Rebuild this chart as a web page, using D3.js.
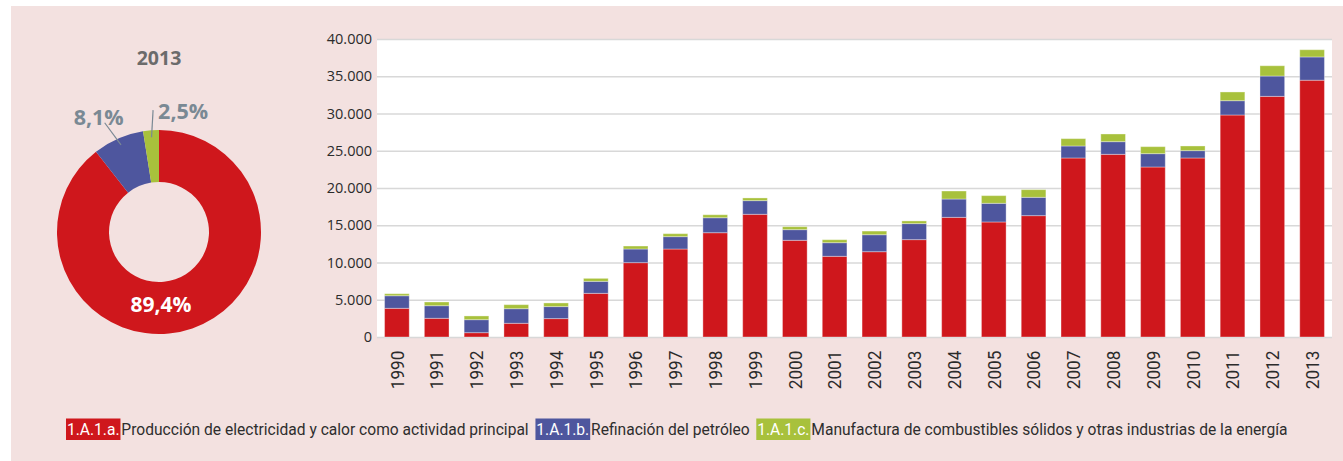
<!DOCTYPE html>
<html>
<head>
<meta charset="utf-8">
<script src="https://cdn.jsdelivr.net/npm/d3@7"></script>
<style>
  html, body { margin: 0; padding: 0; background: #ffffff; }
  svg { display: block; }
</style>
</head>
<body>
<svg id="chart" width="1343" height="461"></svg>
<script>
// ---------- DATA ----------
const years = ["1990","1991","1992","1993","1994","1995","1996","1997","1998","1999","2000","2001","2002","2003","2004","2005","2006","2007","2008","2009","2010","2011","2012","2013"];
const electricity = [3850, 2510, 580, 1840, 2470, 5860, 9980, 11810, 14000, 16470, 12980, 10830, 11450, 13070, 16060, 15440, 16290, 24030, 24520, 22820, 24030, 29800, 32300, 34470];
const refining    = [1690, 1690, 1745, 1960, 1610, 1610, 1830, 1660, 2010, 1835, 1430, 1830, 2280, 2150, 2460, 2505, 2460, 1610, 1700, 1790, 985, 1920, 2730, 3120];
const solidFuels  = [270, 500, 500, 540, 490, 400, 400, 400, 400, 360, 400, 400, 490, 360, 1075, 1030, 1030, 985, 1030, 940, 625, 1170, 1380, 970];
const yTicks = [0, 5000, 10000, 15000, 20000, 25000, 30000, 35000, 40000];
const pieYear = "2013";
const pieShares = [89.4, 8.1, 2.5];
const pieLabels = ["89,4%", "8,1%", "2,5%"];
const seriesCodes = ["1.A.1.a.", "1.A.1.b.", "1.A.1.c."];
const seriesNames = ["Producción de electricidad y calor como actividad principal", "Refinación del petróleo", "Manufactura de combustibles sólidos y otras industrias de la energía"];

// ---------- STYLE ----------
const colors = ["#cf171c", "#4e569e", "#a8c13c"];
const bg = "#f3e1e0";
const svg = d3.select("#chart");

svg.append("rect").attr("x", 11).attr("y", 6).attr("width", 1343 - 11).attr("height", 461 - 6).attr("fill", bg);

// ---------- BAR CHART ----------
const plot = { left: 377, right: 1332, top: 39, bottom: 337 };
const x = d3.scaleBand().domain(years).range([plot.left, plot.right]).paddingInner(0.38).paddingOuter(0.19);
const y = d3.scaleLinear().domain([0, 40000]).range([plot.bottom, plot.top]);

svg.append("rect").attr("x", plot.left).attr("y", plot.top)
  .attr("width", plot.right - plot.left).attr("height", plot.bottom - plot.top).attr("fill", "#ffffff");

const locale = d3.formatLocale({ decimal: ",", thousands: ".", grouping: [3], currency: ["", ""] });
const fmt = locale.format(",d");

// gridlines
const yAxis = d3.axisLeft(y).tickValues(yTicks).tickFormat(fmt).tickSize(-(plot.right - plot.left)).tickPadding(5);
const gy = svg.append("g").attr("transform", `translate(${plot.left},0)`).call(yAxis);
gy.select(".domain").remove();
gy.selectAll(".tick line").attr("stroke", "#d8d8d8").attr("stroke-width", 1.6);
gy.selectAll(".tick text").attr("fill", "#2b2b2b").attr("font-family", "Open Sans").attr("font-size", 14.5);

// stacked bars
const table = years.map((yr, i) => ({ year: yr, a: electricity[i], b: refining[i], c: solidFuels[i] }));
const stack = d3.stack().keys(["a", "b", "c"]);
const layers = stack(table);
svg.append("g").selectAll("g").data(layers).join("g")
  .attr("fill", (d, i) => colors[i])
  .selectAll("rect").data(d => d).join("rect")
  .attr("x", d => x(d.data.year))
  .attr("width", x.bandwidth())
  .attr("y", d => y(d[1]))
  .attr("height", d => y(d[0]) - y(d[1]))
  .attr("stroke", "rgba(255,255,255,0.35)")
  .attr("stroke-width", 1);

// x axis labels
const xAxis = d3.axisBottom(x).tickSize(0).tickPadding(0);
const gx = svg.append("g").attr("transform", `translate(0,${plot.bottom})`).call(xAxis);
gx.select(".domain").remove();
gx.selectAll(".tick text")
  .attr("fill", "#2b2b2b").attr("font-family", "Roboto").attr("font-size", 17.5)
  .attr("text-anchor", "end")
  .attr("transform", "rotate(-90) scale(0.98,1.08)")
  .attr("x", -14).attr("y", 0).attr("dy", "0.36em");

// ---------- DONUT ----------
const cx = 159, cy = 232, rOuter = 102, rInner = 50;
const pie = d3.pie().sort(null).value(d => d);
const arcs = pie(pieShares);
const arc = d3.arc().innerRadius(rInner).outerRadius(rOuter);
const gp = svg.append("g").attr("transform", `translate(${cx},${cy})`);
gp.selectAll("path").data(arcs).join("path").attr("d", arc).attr("fill", (d, i) => colors[i]);

svg.append("text").attr("x", cx).attr("y", 65).attr("text-anchor", "middle")
  .attr("font-family", "Open Sans").attr("font-weight", "bold").attr("font-size", 19.5)
  .attr("fill", "#6b6b6b").text(pieYear);

// inside label for big slice
gp.append("text").attr("x", 2).attr("y", 80).attr("text-anchor", "middle")
  .attr("font-family", "Open Sans").attr("font-weight", "bold").attr("font-size", 21)
  .attr("fill", "#ffffff").text(pieLabels[0]);

// outside labels with leader lines
const labelColor = "#7a8994";
const offsets = [null, { dx: -6, dy: 2, anchor: "middle" }, { dx: 5, dy: 9, anchor: "start" }];
[1, 2].forEach(i => {
  const a = (arcs[i].startAngle + arcs[i].endAngle) / 2;
  const p0 = [95 * Math.sin(a), -95 * Math.cos(a)];
  const p1 = [122 * Math.sin(a + (i === 1 ? -0.05 : 0.03)), -122 * Math.cos(a + (i === 1 ? -0.05 : 0.03))];
  gp.append("line").attr("x1", p0[0]).attr("y1", p0[1]).attr("x2", p1[0]).attr("y2", p1[1])
    .attr("stroke", labelColor).attr("stroke-width", 1.2);
  gp.append("text").attr("x", p1[0] + offsets[i].dx).attr("y", p1[1] + offsets[i].dy)
    .attr("text-anchor", offsets[i].anchor)
    .attr("font-family", "Open Sans").attr("font-weight", "bold").attr("font-size", 21.5)
    .attr("fill", labelColor).text(pieLabels[i]);
});

// ---------- LEGEND ----------
const legendLeft = 66, legendRight = 1288;
const lgOuter = svg.append("g");
const lg = lgOuter.append("g");
let lx = 0;
const ly = 435;
seriesCodes.forEach((code, i) => {
  const rect = lg.append("rect").attr("y", 418.5).attr("height", 21.5).attr("fill", colors[i]);
  const codeText = lg.append("text").attr("x", lx + 1).attr("y", ly)
    .attr("font-family", "Roboto").attr("font-size", 17)
    .attr("fill", "#ffffff").text(code);
  const w = codeText.node().getComputedTextLength();
  rect.attr("x", lx).attr("width", w + 2);
  lx += w + 3;
  const nameText = lg.append("text").attr("x", lx).attr("y", ly)
    .attr("font-family", "Roboto").attr("font-size", 17)
    .attr("fill", "#2e2e2e").text(seriesNames[i]);
  lx += nameText.node().getComputedTextLength() + (i < 2 ? 7 : 0);
});
const sx = (legendRight - legendLeft) / lx;
lg.attr("transform", `translate(${legendLeft},0) scale(${sx},1)`);
</script>
</body>
</html>
